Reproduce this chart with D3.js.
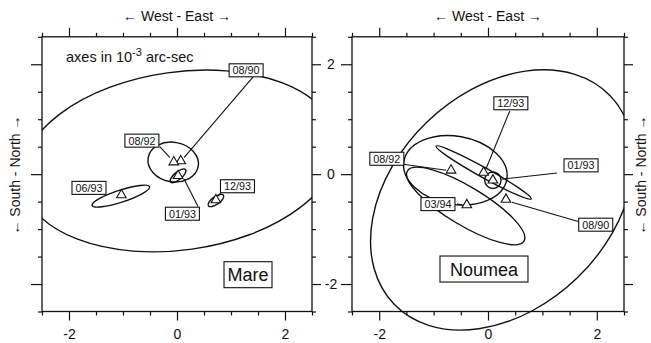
<!DOCTYPE html>
<html><head><meta charset="utf-8">
<script src="https://cdn.jsdelivr.net/npm/d3@7"></script>
<style>
body{margin:0;background:#fff}
svg{display:block}
text{font-family:"Liberation Sans",Arial,Helvetica,sans-serif;fill:#111}
</style>
</head><body>
<svg id="c" width="651" height="343"></svg>
<script>
// ---------- axis ticks ----------
const majorTicks = [-2, 0, 2];
const minorTicks = [-2.5, -1.5, -1, -0.5, 0.5, 1, 1.5, 2.5];
const tickLabels = ["-2", "0", "2"];

// ---------- Mare (units: 10^-3 arc-sec) ----------
const mareEpochs = ["08/90", "08/92", "01/93", "06/93", "12/93"];
const mareEast   = [0.07, -0.06, 0.02, -1.03, 0.72];
const mareNorth  = [0.24, 0.22, -0.03, -0.38, -0.47];
// error ellipses: centre, semi-axes, orientation (deg from East, counter-clockwise)
const mareEllCx  = [0.05, -0.07, 0.02, -1.04, 0.72];
const mareEllCy  = [0.24, 0.22, -0.03, -0.40, -0.48];
const mareEllA   = [2.95, 0.47, 0.18, 0.56, 0.17];
const mareEllB   = [1.62, 0.36, 0.07, 0.11, 0.07];
const mareEllAng = [8, -10, 40, 18, 35];
// label boxes and leader lines (data units)
const mareLabelX = [1.28, -0.65, 0.10, -1.63, 1.12];
const mareLabelY = [1.89, 0.61, -0.72, -0.25, -0.22];
const mareLeadFrom = [[1.41, 1.77], [-0.32, 0.50], [0.39, -0.59], null, [0.83, -0.32]];
const mareLeadTo   = [[0.13, 0.30], [-0.13, 0.30], [0.13, -0.09], null, [0.76, -0.40]];

// ---------- Noumea ----------
const nouEpochs = ["08/90", "08/92", "01/93", "12/93", "03/94"];
const nouEast   = [0.33, -0.68, 0.09, -0.08, -0.39];
const nouNorth  = [-0.46, 0.07, -0.11, 0.03, -0.56];
const nouEllCx  = [0.26, -0.60, 0.09, -0.08, -0.41];
const nouEllCy  = [-0.47, 0.07, -0.11, 0.03, -0.58];
const nouEllA   = [2.76, 0.96, 0.15, 1.00, 1.25];
const nouEllB   = [1.97, 0.62, 0.15, 0.09, 0.35];
const nouEllAng = [44, -10, 0, -29, -31];
const nouLabelX = [1.98, -1.86, 1.71, 0.42, -0.92];
const nouLabelY = [-0.92, 0.28, 0.16, 1.29, -0.545];
const nouLeadFrom = [[1.69, -0.87], [-1.56, 0.18], [1.27, 0.02], [0.40, 1.15], [-0.57, -0.545]];
const nouLeadTo   = [[0.44, -0.51], [-0.77, 0.07], [0.26, -0.09], [-0.04, 0.09], [-0.48, -0.56]];

const svg = d3.select("#c");
const domain = [-2.5, 2.5];

function panel(opt) {
  const x = d3.scaleLinear().domain(domain).range([opt.x0, opt.x1]);
  const y = d3.scaleLinear().domain(domain).range([311.5, 36.8]);
  const g = svg.append("g");
  const clipId = "clip" + opt.id;
  svg.append("defs").append("clipPath").attr("id", clipId)
    .append("rect").attr("x", opt.x0).attr("y", opt.clipY0).attr("width", opt.x1 - opt.x0).attr("height", opt.clipY1 - opt.clipY0);

  // frame
  g.append("rect").attr("x", opt.x0).attr("y", y(2.5)).attr("width", opt.x1 - opt.x0).attr("height", y(-2.5) - y(2.5))
    .attr("fill", "none").attr("stroke", "#111").attr("stroke-width", 1.3);

  function ax(axisFn, scale, transform, size, vals, labels, pad) {
    const a = axisFn(scale).tickValues(vals).tickSize(size).tickSizeOuter(0).tickPadding(pad || 5);
    if (labels) a.tickFormat(d => tickLabels[majorTicks.indexOf(d)]); else a.tickFormat("");
    const s = g.append("g").attr("transform", transform).call(a);
    s.select(".domain").remove();
    s.selectAll("line").attr("stroke", "#111").attr("stroke-width", 1.2);
    s.selectAll("text").style("font-size", "14px").attr("font-family", null).attr("fill", "#111");
    return s;
  }
  // top
  ax(d3.axisTop, x, `translate(0,${y(2.5)})`, 9, majorTicks, false);
  ax(d3.axisTop, x, `translate(0,${y(2.5)})`, 4, minorTicks, false);
  // bottom
  ax(d3.axisBottom, x, `translate(0,${y(-2.5)})`, 9, majorTicks, true, 9);
  ax(d3.axisBottom, x, `translate(0,${y(-2.5)})`, 4, minorTicks, false);
  // left
  const la = ax(d3.axisLeft, y, `translate(${opt.x0},0)`, 11, majorTicks, opt.leftLabels);
  if (opt.leftLabels) la.selectAll("text").attr("text-anchor", "middle").attr("x", -21);
  ax(d3.axisLeft, y, `translate(${opt.x0},0)`, 4, minorTicks, false);
  // right
  ax(d3.axisRight, y, `translate(${opt.x1},0)`, 9, majorTicks, false);
  ax(d3.axisRight, y, `translate(${opt.x1},0)`, 4, minorTicks, false);

  // title
  g.append("text").attr("x", (opt.x0 + opt.x1) / 2).attr("y", 21).attr("text-anchor", "middle")
    .style("font-size", "14px").text("\u2190 West - East \u2192");

  const plot = g.append("g").attr("clip-path", `url(#${clipId})`);
  const kx = x(1) - x(0), ky = y(0) - y(1);
  // ellipses
  plot.selectAll("ellipse").data(d3.range(opt.cx.length)).join("ellipse")
    .attr("cx", i => x(opt.cx[i])).attr("cy", i => y(opt.cy[i]))
    .attr("rx", i => opt.a[i] * kx).attr("ry", i => opt.b[i] * ky)
    .attr("transform", i => `rotate(${-opt.ang[i]},${x(opt.cx[i])},${y(opt.cy[i])})`)
    .attr("fill", "none").attr("stroke", "#111").attr("stroke-width", 1.4);

  const top = g.append("g");
  // leaders
  top.selectAll("line.lead").data(d3.range(opt.from.length).filter(i => opt.from[i])).join("line")
    .attr("class", "lead")
    .attr("x1", i => x(opt.from[i][0])).attr("y1", i => y(opt.from[i][1]))
    .attr("x2", i => x(opt.to[i][0])).attr("y2", i => y(opt.to[i][1]))
    .attr("stroke", "#111").attr("stroke-width", 1.1);
  // triangles
  const tri = d3.symbol().type(d3.symbolTriangle).size(40);
  top.selectAll("path.tri").data(d3.range(opt.px.length)).join("path").attr("class", "tri")
    .attr("d", tri).attr("transform", i => `translate(${x(opt.px[i])},${y(opt.py[i])})`)
    .attr("fill", "#fff").attr("stroke", "#111").attr("stroke-width", 1.1);
  // label boxes
  const lb = top.selectAll("g.lab").data(d3.range(opt.labels.length)).join("g").attr("class", "lab")
    .attr("transform", i => `translate(${x(opt.lx[i])},${y(opt.ly[i])})`);
  lb.append("rect").attr("x", -17).attr("y", -6.5).attr("width", 34).attr("height", 13)
    .attr("fill", "#fff").attr("stroke", "#111").attr("stroke-width", 1.1);
  lb.append("text").attr("text-anchor", "middle").attr("y", 4).style("font-size", "11px")
    .attr("textLength", 27).attr("lengthAdjust", "spacingAndGlyphs")
    .text(i => opt.labels[i]);

  // station name box
  const nb = g.append("g").attr("transform", `translate(${x(opt.nameX)},${y(opt.nameY)})`);
  nb.append("rect").attr("x", -opt.nameW / 2).attr("y", -13).attr("width", opt.nameW).attr("height", 26)
    .attr("fill", "#fff").attr("stroke", "#111").attr("stroke-width", 1.1);
  nb.append("text").attr("text-anchor", "middle").attr("y", 6.5).style("font-size", "18px").text(opt.name);
  return {x, y, g};
}

const L = panel({id: "L", x0: 42, x1: 312, clipY0: 37, clipY1: 311.5, leftLabels: false,
  cx: mareEllCx, cy: mareEllCy, a: mareEllA, b: mareEllB, ang: mareEllAng,
  px: mareEast, py: mareNorth, labels: mareEpochs, lx: mareLabelX, ly: mareLabelY,
  from: mareLeadFrom, to: mareLeadTo, name: "Mare", nameX: 1.315, nameY: -1.83, nameW: 48});

const R = panel({id: "R", x0: 352, x1: 624, clipY0: 0, clipY1: 343, leftLabels: true,
  cx: nouEllCx, cy: nouEllCy, a: nouEllA, b: nouEllB, ang: nouEllAng,
  px: nouEast, py: nouNorth, labels: nouEpochs, lx: nouLabelX, ly: nouLabelY,
  from: nouLeadFrom, to: nouLeadTo, name: "Noumea", nameX: -0.074, nameY: -1.727, nameW: 88});

// axes note
const note = svg.append("text").attr("x", 66).attr("y", 62).style("font-size", "14.5px");
note.append("tspan").text("axes in 10");
note.append("tspan").attr("dy", -6).style("font-size", "11px").text("-3");
note.append("tspan").attr("dy", 6).text(" arc-sec");

// side labels
svg.append("text").attr("transform", "translate(20,175) rotate(-90)").attr("text-anchor", "middle")
  .style("font-size", "14px").text("\u2190 South - North \u2192");
svg.append("text").attr("transform", "translate(646,175) rotate(-90)").attr("text-anchor", "middle")
  .style("font-size", "14px").text("\u2190 South - North \u2192");
</script>
</body></html>
